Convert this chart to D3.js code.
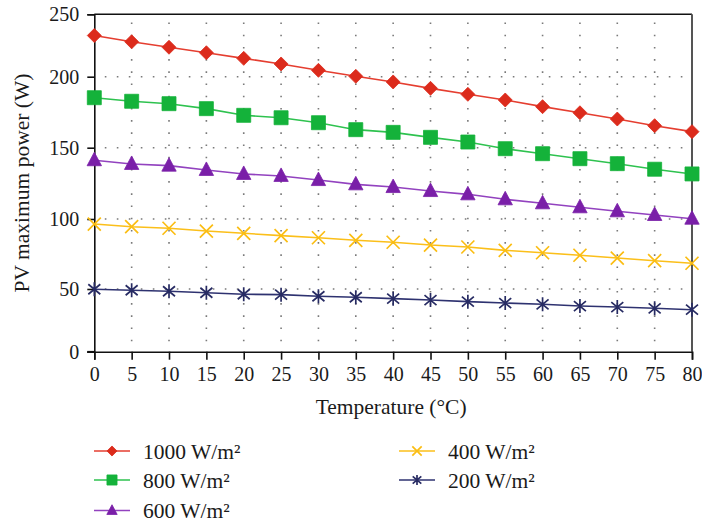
<!DOCTYPE html>
<html>
<head>
<meta charset="utf-8">
<script src="https://cdn.jsdelivr.net/npm/d3@7"></script>
<style>
  html, body { margin: 0; padding: 0; background: #fff; }
  svg text { font-family: "Liberation Serif", "Times New Roman", serif; fill: #1a1a1a; }
</style>
</head>
<body>
<svg id="chart" width="702" height="525"></svg>
<script>
// Temperature (°C) on the x axis
const temperatures = [0, 5, 10, 15, 20, 25, 30, 35, 40, 45, 50, 55, 60, 65, 70, 75, 80];

// PV maximum power (W) for each irradiance level
const power1000 = [233, 228, 223.6, 219.2, 214.7, 210.2, 205.1, 200.3, 196.3, 191.8, 187.6, 183.6, 178.9, 174.6, 170.2, 165.5, 161.3];
const power800  = [185.2, 182.7, 181, 177.5, 172.8, 171.1, 167.6, 162.7, 160.8, 157.3, 154, 149.3, 145.8, 142.3, 138.8, 134.9, 131.6];
const power600  = [141.2, 138.6, 137.4, 134.4, 131.6, 130.2, 127.3, 124.3, 122.4, 119.6, 117.3, 113.8, 111, 108.2, 105.4, 102.8, 100.2];
const power400  = [96.4, 94.5, 93.4, 91.4, 89.8, 88.1, 86.6, 84.8, 83.4, 81.4, 80, 77.6, 75.9, 74.1, 72.1, 70.2, 68.4];
const power200  = [49.8, 49, 48.2, 47, 45.8, 45.5, 44.2, 43.4, 42.3, 41.2, 39.9, 38.8, 37.8, 36.4, 35.6, 34.6, 33.5];

const seriesLabels = ["1000 W/m²", "800 W/m²", "600 W/m²", "400 W/m²", "200 W/m²"];
const xTicks = [0, 5, 10, 15, 20, 25, 30, 35, 40, 45, 50, 55, 60, 65, 70, 75, 80];
const yTicks = [0, 50, 100, 150, 200, 250];

const series = [
  { label: seriesLabels[0], values: power1000, marker: "diamond",  fill: "#dc2b1c", line: "#e53e30" },
  { label: seriesLabels[1], values: power800,  marker: "square",   fill: "#14b23a", line: "#2ec24f" },
  { label: seriesLabels[2], values: power600,  marker: "triangle", fill: "#7a1fa8", line: "#9242bf" },
  { label: seriesLabels[3], values: power400,  marker: "cross",    fill: "#fbbd12", line: "#fbbf1a" },
  { label: seriesLabels[4], values: power200,  marker: "asterisk", fill: "#272b63", line: "#2e3270" }
];

const svg = d3.select("#chart");

const plot = { left: 94.3, right: 692, top: 14.3, bottom: 351.7 };

const x = d3.scaleLinear().domain([0, 80]).range([plot.left, plot.right]);
// Value axis with unevenly spaced gridlines: piecewise linear scale through each tick
const y = d3.scaleLinear()
  .domain(yTicks)
  .range([351.7, 289, 219, 147.7, 76.7, 14.3]);

// Dotted gridlines
const grid = svg.append("g").attr("class", "grid");
grid.selectAll("line.v")
  .data(xTicks.filter(t => t > 0 && t < 80))
  .join("line")
  .attr("x1", d => x(d)).attr("x2", d => x(d))
  .attr("y1", plot.bottom).attr("y2", plot.top)
  .attr("stroke", "#7a7a7a").attr("stroke-width", 1.6)
  .attr("stroke-dasharray", "1.6,10.6").attr("stroke-dashoffset", -10.4);
grid.selectAll("line.h")
  .data(yTicks.filter(t => t > 0 && t < 250))
  .join("line")
  .attr("x1", plot.left).attr("x2", plot.right)
  .attr("y1", d => y(d)).attr("y2", d => y(d))
  .attr("stroke", "#7a7a7a").attr("stroke-width", 1.6)
  .attr("stroke-dasharray", "1.6,10.4").attr("stroke-dashoffset", -10.5);

// Frame: top and right edges
svg.append("line")
  .attr("x1", plot.left).attr("x2", plot.right)
  .attr("y1", plot.top).attr("y2", plot.top)
  .attr("stroke", "#111").attr("stroke-width", 1.6);
svg.append("line")
  .attr("x1", plot.right).attr("x2", plot.right)
  .attr("y1", plot.top).attr("y2", plot.bottom)
  .attr("stroke", "#555").attr("stroke-width", 2);

// Axes
const xAxis = d3.axisBottom(x).tickValues(xTicks).tickSize(8).tickPadding(7).tickFormat(d3.format("d"));
const yAxis = d3.axisLeft(y).tickValues(yTicks).tickSize(7).tickPadding(8).tickFormat(d3.format("d"));

const gx = svg.append("g").attr("transform", `translate(0,${plot.bottom})`).call(xAxis);
const gy = svg.append("g").attr("transform", `translate(${plot.left},0)`).call(yAxis);
[gx, gy].forEach(g => {
  g.select(".domain").attr("stroke", "#111").attr("stroke-width", 1.6);
  g.selectAll(".tick line").attr("stroke", "#111").attr("stroke-width", 1.6);
  g.selectAll(".tick text")
    .attr("font-family", "Liberation Serif, serif")
    .attr("font-size", 20).attr("fill", "#1a1a1a");
});
// extend the bottom axis line to the left tick end
svg.append("line")
  .attr("x1", plot.left - 7).attr("x2", plot.left)
  .attr("y1", plot.bottom).attr("y2", plot.bottom)
  .attr("stroke", "#111").attr("stroke-width", 1.6);

// Axis titles
svg.append("text")
  .attr("x", (plot.left + plot.right) / 2 - 2).attr("y", 414)
  .attr("text-anchor", "middle").attr("font-size", 21.5)
  .text("Temperature (°C)");
svg.append("text")
  .attr("transform", `translate(29,${(plot.top + plot.bottom) / 2}) rotate(-90)`)
  .attr("text-anchor", "middle").attr("font-size", 21.5)
  .text("PV maximum power (W)");

// Marker shapes
function markerPath(type, s) {
  switch (type) {
    case "diamond":  return `M0,${-7*s}L${7*s},0L0,${7*s}L${-7*s},0Z`;
    case "square":   return `M${-7*s},${-7*s}H${7*s}V${7*s}H${-7*s}Z`;
    case "triangle": return `M0,${-8*s}L${7.2*s},${5.5*s}L${-7.2*s},${5.5*s}Z`;
    case "cross":    return `M${-6.5*s},${-6.5*s}L${6.5*s},${6.5*s}M${6.5*s},${-6.5*s}L${-6.5*s},${6.5*s}`;
    case "asterisk": return `M0,${-7*s}V${7*s}M${-6*s},${-5*s}L${6*s},${5*s}M${6*s},${-5*s}L${-6*s},${5*s}`;
  }
}
function drawMarker(sel, d, s) {
  const open = d.marker === "cross" || d.marker === "asterisk";
  sel.append("path")
    .attr("d", markerPath(d.marker, s))
    .attr("fill", open ? "none" : d.fill)
    .attr("stroke", d.fill)
    .attr("stroke-width", open ? 1.7 : 0.8)
    .attr("stroke-linejoin", "miter");
}

// Data lines and markers
const line = d3.line().x((d, i) => x(temperatures[i])).y(d => y(d));
const sg = svg.append("g").selectAll("g").data(series).join("g");
sg.append("path")
  .attr("d", d => line(d.values))
  .attr("fill", "none")
  .attr("stroke", d => d.line)
  .attr("stroke-width", 1.6);
sg.each(function(d) {
  const g = d3.select(this);
  d.values.forEach((v, i) => {
    const m = g.append("g").attr("transform", `translate(${x(temperatures[i])},${y(v)})`);
    drawMarker(m, d, 1);
  });
});

// Legend
const legendPos = [
  { lx: 94, ty: 451 }, { lx: 94, ty: 480 }, { lx: 94, ty: 510.5 },
  { lx: 399, ty: 451 }, { lx: 399, ty: 480 }
];
const lg = svg.append("g").selectAll("g").data(series).join("g")
  .attr("transform", (d, i) => `translate(${legendPos[i].lx},${legendPos[i].ty})`);
lg.append("line")
  .attr("x1", 0).attr("x2", 36).attr("y1", 0).attr("y2", 0)
  .attr("stroke", d => d.line).attr("stroke-width", 1.6);
lg.each(function(d) {
  const m = d3.select(this).append("g").attr("transform", "translate(18,0)");
  drawMarker(m, d, 0.72);
});
lg.append("text")
  .attr("x", 49).attr("y", 0).attr("dy", "0.35em")
  .attr("font-size", 21.5)
  .text(d => d.label);
</script>
</body>
</html>
